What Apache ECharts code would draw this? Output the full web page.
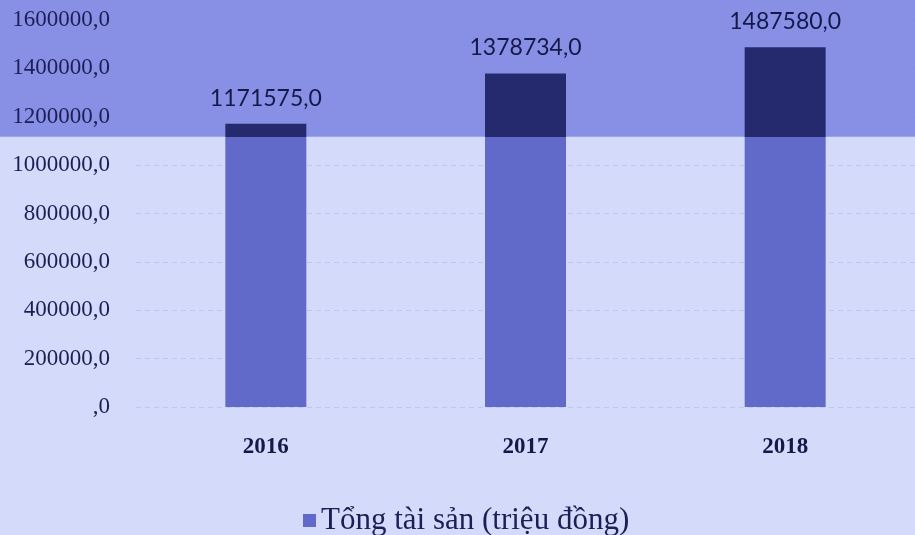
<!DOCTYPE html>
<html>
<head>
    <meta charset="utf-8">
    <title>Tổng tài sản</title>
    <script src="https://cdn.jsdelivr.net/npm/echarts@6/dist/echarts.min.js"></script>
    <style>
        html, body { margin: 0; padding: 0; background: #d4daf9; }
        #chart1 { width: 915px; height: 535px; }
    </style>
</head>
<body>
<div id="chart1"></div>
<script type="text/javascript">
    // du lieu
    var years = ['2016', '2017', '2018'];
    var tongTaiSan = [1171575, 1378734, 1487580];
    var yTicks = [0, 200000, 400000, 600000, 800000, 1000000, 1200000, 1400000, 1600000];
    var seriesName = 'Tổng tài sản (triệu đồng)';

    // vung toi phia tren (anh scan)
    var bandFrom = 1117000;
    var lightBar = '#6169c9';
    var darkBar = '#252a6e';

    function barColor(v) {
        if (v <= bandFrom) return lightBar;
        var f = (v - bandFrom) / v;
        return new echarts.graphic.LinearGradient(0, 0, 0, 1, [
            { offset: 0, color: darkBar },
            { offset: f, color: darkBar },
            { offset: f, color: lightBar },
            { offset: 1, color: lightBar }
        ]);
    }

    var myChart = echarts.init(document.getElementById('chart1'));
    myChart.setOption({
        backgroundColor: '#d4daf9',
        animation: false,
        grid: { left: 136, right: -10, top: 20, bottom: 128 },
        legend: {
            data: [seriesName],
            left: 298,
            top: 500,
            itemWidth: 13,
            itemHeight: 13,
            itemGap: 7,
            icon: 'rect',
            textStyle: { fontFamily: 'Liberation Serif', fontSize: 31, color: '#1b1f55' }
        },
        xAxis: {
            type: 'category',
            data: years,
            axisLine: { show: false },
            axisTick: { show: false },
            axisLabel: {
                margin: 29,
                fontFamily: 'Liberation Serif',
                fontWeight: 'bold',
                fontSize: 23,
                color: '#15194a'
            }
        },
        yAxis: {
            type: 'value',
            min: yTicks[0],
            max: yTicks[yTicks.length - 1],
            interval: 200000,
            axisLine: { show: false },
            axisTick: { show: false },
            splitLine: { lineStyle: { color: 'rgba(120,130,210,0.22)', type: [5, 4], width: 1 } },
            axisLabel: {
                margin: 26,
                fontFamily: 'Liberation Serif',
                fontSize: 23,
                color: '#1b1f55',
                formatter: function (v) { return (v === 0 ? '' : v) + ',0'; }
            }
        },
        series: [{
            name: seriesName,
            type: 'bar',
            barWidth: 81,
            itemStyle: { color: lightBar },
            data: tongTaiSan.map(function (v) {
                return { value: v, itemStyle: { color: barColor(v) } };
            }),
            label: {
                show: true,
                position: 'top',
                distance: 14,
                fontFamily: 'Lato',
                fontSize: 23,
                color: '#15194a',
                formatter: function (p) { return p.value + ',0'; }
            }
        }]
    });

    // dai mau phia tren, tinh theo truc y
    var bandY = myChart.convertToPixel({ yAxisIndex: 0 }, bandFrom);
    myChart.setOption({
        graphic: [{
            type: 'rect',
            z: -10,
            silent: true,
            shape: { x: 0, y: 0, width: 915, height: bandY },
            style: { fill: '#8890e6' }
        }]
    });
</script>
</body>
</html>
